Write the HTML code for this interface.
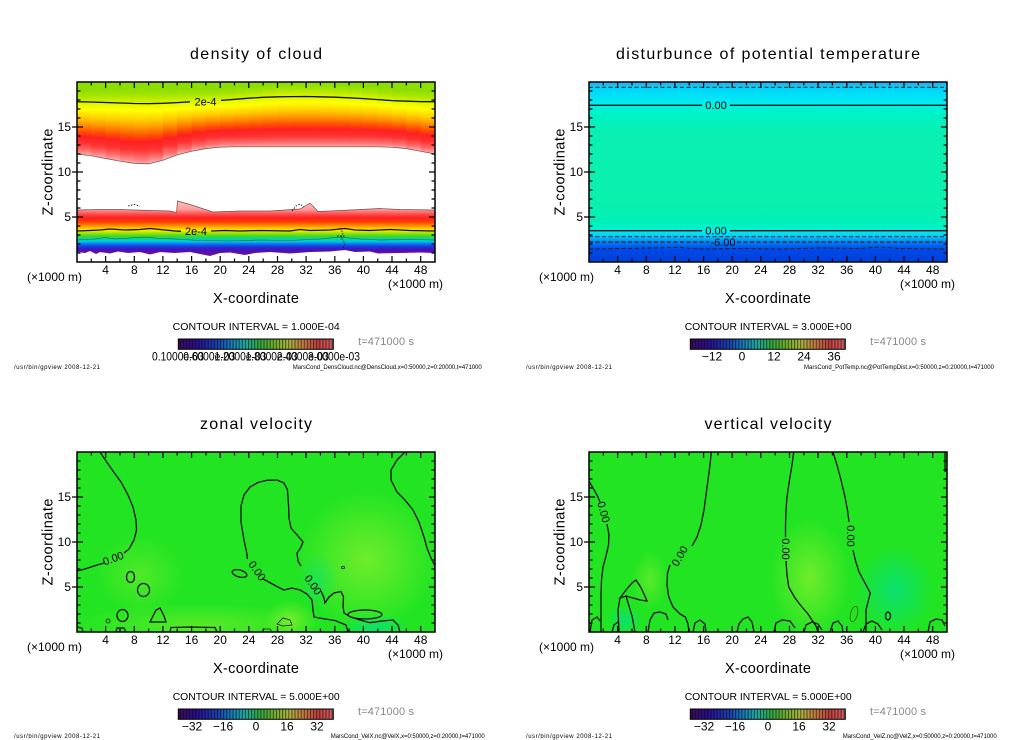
<!DOCTYPE html>
<html><head><meta charset="utf-8"><style>
html,body{margin:0;padding:0;background:#fff;}
svg{display:block;}
text{font-family:"Liberation Sans",Arial,sans-serif;fill:#000;}
.t{font-size:16px;}
.ax{font-size:14.5px;}
.tk{font-size:12px;}
.ci{font-size:10.5px;}
.cb{font-size:12px;}
.ft{font-size:6px;}
.gr{fill:#888;font-size:11px;}
.cl{font-size:11px;}
.c{fill:none;stroke:#111;stroke-width:1.3;}
.cth{fill:none;stroke:#222;stroke-width:0.8;}
</style></head><body>
<svg width="1024" height="740" viewBox="0 0 1024 740" xmlns="http://www.w3.org/2000/svg">
<defs>
<linearGradient id="gUp" x1="0" y1="0" x2="0" y2="1">
<stop offset="0" stop-color="#88dc00"/><stop offset="0.11" stop-color="#a8e600"/><stop offset="0.22" stop-color="#e4f600"/><stop offset="0.30" stop-color="#ffff00"/><stop offset="0.42" stop-color="#ffcc00"/><stop offset="0.51" stop-color="#ff9800"/><stop offset="0.61" stop-color="#ff5400"/><stop offset="0.69" stop-color="#ff2020"/><stop offset="0.79" stop-color="#ff3232"/><stop offset="0.875" stop-color="#ff6464"/><stop offset="0.945" stop-color="#ff9c9c"/><stop offset="1" stop-color="#ffc4c4"/>
</linearGradient>
<linearGradient id="gLow" gradientUnits="userSpaceOnUse" x1="0" y1="200" x2="0" y2="262">
<stop offset="0" stop-color="#ffc0c0"/><stop offset="0.081" stop-color="#ffb0b0"/><stop offset="0.153" stop-color="#ff9a9a"/><stop offset="0.194" stop-color="#ff7070"/><stop offset="0.242" stop-color="#ff4040"/><stop offset="0.29" stop-color="#ff2020"/><stop offset="0.355" stop-color="#ff4000"/><stop offset="0.403" stop-color="#ff8000"/><stop offset="0.452" stop-color="#ffc000"/><stop offset="0.492" stop-color="#f0f000"/><stop offset="0.532" stop-color="#a8e400"/><stop offset="0.581" stop-color="#40d828"/><stop offset="0.629" stop-color="#00d89a"/><stop offset="0.669" stop-color="#00c8e8"/><stop offset="0.71" stop-color="#1070f0"/><stop offset="0.758" stop-color="#2030d8"/><stop offset="0.806" stop-color="#4a10b8"/><stop offset="0.855" stop-color="#6010a8"/><stop offset="1" stop-color="#6010a8"/>
</linearGradient>
<linearGradient id="gPT" gradientUnits="userSpaceOnUse" x1="0" y1="82" x2="0" y2="262">
<stop offset="0" stop-color="#20b4f0"/><stop offset="0.022" stop-color="#18c0f4"/><stop offset="0.033" stop-color="#00d4f8"/><stop offset="0.078" stop-color="#00e2f8"/><stop offset="0.122" stop-color="#00eef0"/><stop offset="0.133" stop-color="#00f2dc"/><stop offset="0.189" stop-color="#00f2c4"/><stop offset="0.294" stop-color="#0af0b0"/><stop offset="0.656" stop-color="#0af0ae"/><stop offset="0.778" stop-color="#00f0b8"/><stop offset="0.817" stop-color="#00f2d4"/><stop offset="0.828" stop-color="#00eaf0"/><stop offset="0.856" stop-color="#00d0f8"/><stop offset="0.872" stop-color="#00a8f8"/><stop offset="0.892" stop-color="#0080f4"/><stop offset="0.911" stop-color="#0060ec"/><stop offset="0.933" stop-color="#0048e4"/><stop offset="1" stop-color="#0040e0"/>
</linearGradient>
<linearGradient id="gCB" x1="0" y1="0" x2="1" y2="0">
<stop offset="0" stop-color="#3c0a5a"/><stop offset="0.12" stop-color="#2a1090"/><stop offset="0.25" stop-color="#1a40b0"/><stop offset="0.35" stop-color="#1a80b8"/><stop offset="0.43" stop-color="#20a8a0"/><stop offset="0.52" stop-color="#30a840"/><stop offset="0.62" stop-color="#70b030"/><stop offset="0.72" stop-color="#b0b040"/><stop offset="0.8" stop-color="#c08040"/><stop offset="0.9" stop-color="#c04040"/><stop offset="1" stop-color="#d06060"/>
</linearGradient>
<pattern id="cbp" width="3.1" height="12" patternUnits="userSpaceOnUse"><rect width="1" height="12" fill="#000" opacity="0.55"/></pattern>
<radialGradient id="ry"><stop offset="0" stop-color="#90f030" stop-opacity="0.7"/><stop offset="1" stop-color="#90f030" stop-opacity="0"/></radialGradient>
<radialGradient id="rc"><stop offset="0" stop-color="#00e090" stop-opacity="0.7"/><stop offset="1" stop-color="#00e090" stop-opacity="0"/></radialGradient>
<path id="tk" fill="none" stroke="#000" stroke-width="1.2" d="M105.6 82v6M134.3 82v6M162.9 82v6M191.6 82v6M220.2 82v6M248.8 82v6M277.5 82v6M306.1 82v6M334.8 82v6M363.4 82v6M392 82v6M420.7 82v6M91.3 82v3.5M120 82v3.5M148.6 82v3.5M177.2 82v3.5M205.9 82v3.5M234.5 82v3.5M263.2 82v3.5M291.8 82v3.5M320.4 82v3.5M349.1 82v3.5M377.7 82v3.5M406.4 82v3.5M105.6 262v-6M134.3 262v-6M162.9 262v-6M191.6 262v-6M220.2 262v-6M248.8 262v-6M277.5 262v-6M306.1 262v-6M334.8 262v-6M363.4 262v-6M392 262v-6M420.7 262v-6M91.3 262v-3.5M120 262v-3.5M148.6 262v-3.5M177.2 262v-3.5M205.9 262v-3.5M234.5 262v-3.5M263.2 262v-3.5M291.8 262v-3.5M320.4 262v-3.5M349.1 262v-3.5M377.7 262v-3.5M406.4 262v-3.5M72 217h11M72 172h11M72 127h11M77 253h3.5M77 244h3.5M77 235h3.5M77 226h3.5M77 208h3.5M77 199h3.5M77 190h3.5M77 181h3.5M77 163h3.5M77 154h3.5M77 145h3.5M77 136h3.5M77 118h3.5M77 109h3.5M77 100h3.5M77 91h3.5M435 217h-6M435 172h-6M435 127h-6M435 253h-3.5M435 244h-3.5M435 235h-3.5M435 226h-3.5M435 208h-3.5M435 199h-3.5M435 190h-3.5M435 181h-3.5M435 163h-3.5M435 154h-3.5M435 145h-3.5M435 136h-3.5M435 118h-3.5M435 109h-3.5M435 100h-3.5M435 91h-3.5"/>
</defs>

<!-- ============ TOP LEFT: density of cloud ============ -->
<rect x="77" y="82" width="358" height="12" fill="#8edf00"/>
<g fill="url(#gUp)">
<rect x="77" y="89.1" width="14.8" height="68.8"/>
<rect x="91.32" y="88.5" width="14.8" height="71.65"/>
<rect x="105.64" y="87.8" width="14.8" height="75.05"/>
<rect x="119.96" y="87.4" width="14.8" height="77.97"/>
<rect x="134.28" y="87.2" width="14.8" height="79.52"/>
<rect x="148.6" y="87.5" width="14.8" height="77.6"/>
<rect x="162.92" y="87.8" width="14.8" height="72.8"/>
<rect x="177.24" y="87.9" width="14.8" height="68.2"/>
<rect x="191.56" y="87.85" width="14.8" height="65.1"/>
<rect x="205.88" y="87.85" width="14.8" height="63.03"/>
<rect x="220.2" y="87.3" width="14.8" height="62.68"/>
<rect x="234.52" y="86.2" width="14.8" height="63.6"/>
<rect x="248.84" y="85.0" width="14.8" height="64.8"/>
<rect x="263.16" y="83.4" width="14.8" height="66.4"/>
<rect x="277.48" y="82.5" width="14.8" height="67.3"/>
<rect x="291.8" y="82.2" width="14.8" height="67.6"/>
<rect x="306.12" y="82.3" width="14.8" height="67.5"/>
<rect x="320.44" y="82.6" width="14.8" height="67.2"/>
<rect x="334.76" y="83.3" width="14.8" height="66.5"/>
<rect x="349.08" y="84.1" width="14.8" height="65.7"/>
<rect x="363.4" y="85.4" width="14.8" height="64.4"/>
<rect x="377.72" y="87.0" width="14.8" height="63.07"/>
<rect x="392.04" y="88.5" width="14.8" height="62.2"/>
<rect x="406.36" y="89.1" width="14.8" height="63.85"/>
<rect x="420.68" y="89.6" width="14.32" height="66.05"/>
</g>
<path fill="#fff" d="M77 154 L91.3 155.8 L105.6 158.5 L120 161.2 L134.3 163.4 L148.6 163.9 L162.9 160.3 L177.2 154.9 L191.6 151.3 L205.9 148.6 L220.2 147.2 L234.5 146.8 L377.7 146.8 L392 147.3 L406.4 148.6 L420.7 151.3 L435 154 L435 206 L77 206 Z"/>
<path fill="none" stroke="#705050" stroke-width="0.7" d="M77 154 L91.3 155.8 L105.6 158.5 L120 161.2 L134.3 163.4 L148.6 163.9 L162.9 160.3 L177.2 154.9 L191.6 151.3 L205.9 148.6 L220.2 147.2 L234.5 146.8 L377.7 146.8 L392 147.3 L406.4 148.6 L420.7 151.3 L435 154"/>
<path fill="url(#gLow)" d="M77 210 L100 209.5 L120 209.5 L150 210.5 L170 211 L176.5 212.5 L177.5 201 L190 204.5 L213 212 L240 211 L270 211 L300 209 L305 206 L310 203.3 L313 206 L318 211.5 L330 211 L360 209.5 L380 208.5 L400 209.5 L435 210 L435 262 L77 262 Z"/>
<path fill="none" stroke="#705050" stroke-width="0.7" d="M77 210 L100 209.5 L120 209.5 L150 210.5 L170 211 L176.5 212.5 L177.5 201 L190 204.5 L213 212 L240 211 L270 211 L300 209 L305 206 L310 203.3 L313 206 L318 211.5 L330 211 L360 209.5 L380 208.5 L400 209.5 L435 210"/>
<path fill="#fff" d="M77 262 L77 252 L85 253 L90 251 L96 254 L100 252 L110 253.5 L118 251.5 L128 253 L140 252 L150 254.5 L160 252 L175 253 L190 252 L200 254 L210 256 L220 253 L230 252.5 L245 255 L255 253 L270 252 L290 253.5 L310 252 L330 251.5 L345 250 L355 252 L370 251.5 L378 253.5 L400 253 L420 252.5 L435 253 L435 262 Z"/>
<path fill="none" stroke="#205050" stroke-width="0.6" d="M77 240 L95 239 L105 237.5 L115 239 L130 238 L145 237 L160 238.5 L175 239 L200 240.5 L230 241 L260 240 L290 240.5 L320 239 L340 237 L360 239 L380 240 L410 239.5 L435 240"/>
<path class="c" d="M77 101.7 L90 102 L105.6 102.5 L120 103 L134.3 103.5 L148.6 103.6 L162.9 103.3 L177 102.6 L190 101.8 M221 100.4 L235 99.3 L248.8 98.2 L263 97.3 L277.5 96.8 L292 96.6 L306.1 96.5 L320 96.8 L334.8 97.2 L349 97.8 L363.4 98.6 L378 99.6 L392 100.6 L406.4 101.2 L420.7 101.6 L435 101.7"/>
<path class="c" d="M77 231 L90 230.5 L100 230 L110 229 L125 230 L140 229.5 L150 228.5 L160 229.5 L175 231 L181 231.3 M211 231 L225 230.5 L240 231 L260 230.5 L290 231 L300 229.5 L310 230.5 L330 230 L345 228.5 L355 230 L370 230.5 L390 229.5 L410 230.5 L435 231"/>
<path fill="none" stroke="#111" stroke-width="0.9" stroke-dasharray="1.5 1.5" d="M128 206 L134 204.5 L140 206 M292 211 L296 206 L300 204 L304 207 M340 228 L343 233 L341 238 L345 243 L343 248 M337 236 L346 236"/>
<text class="cl" x="205.5" y="105.5" text-anchor="middle">2e-4</text>
<text class="cl" x="196" y="235" text-anchor="middle">2e-4</text>
<rect x="77" y="82" width="358" height="180" fill="none" stroke="#000" stroke-width="1.5"/>
<use href="#tk"/>

<!-- ============ TOP RIGHT: potential temperature ============ -->
<rect x="589" y="82" width="358" height="180" fill="url(#gPT)"/>
<path fill="none" stroke="#111" stroke-width="0.8" stroke-dasharray="4 2.5" d="M589 87.3 H947 M589 236.7 H947 M589 249 L620 248.5 L650 248 L680 247.5 L700 249 L740 248.5 L780 249 L820 248 L860 248.5 L880 247 L900 248.5 L947 249"/>
<path fill="none" stroke="#111" stroke-width="1.3" stroke-dasharray="4 2.5" d="M589 242 H709 M737 242 H947"/>
<path class="c" d="M589 105.3 H702 M730 105.3 H947 M589 230.7 H702 M730 230.7 H947"/>
<text class="cl" x="716" y="109" text-anchor="middle">0.00</text>
<text class="cl" x="716" y="234.5" text-anchor="middle">0.00</text>
<text class="cl" x="723" y="246" text-anchor="middle">-6.00</text>
<rect x="589" y="82" width="358" height="180" fill="none" stroke="#000" stroke-width="1.5"/>
<use href="#tk" transform="translate(512,0)"/>

<!-- ============ BOTTOM LEFT: zonal velocity ============ -->
<rect x="77" y="452" width="358" height="180" fill="#22e422"/>
<svg x="77" y="452" width="358" height="180" viewBox="77 452 358 180" overflow="hidden">
<ellipse cx="367" cy="560" rx="70" ry="70" fill="url(#ry)"/>
<ellipse cx="140" cy="575" rx="45" ry="40" fill="url(#ry)" opacity="0.6"/>
<ellipse cx="200" cy="625" rx="130" ry="22" fill="url(#ry)" opacity="0.7"/>
<ellipse cx="290" cy="620" rx="25" ry="20" fill="url(#ry)"/>
<ellipse cx="375" cy="628" rx="35" ry="15" fill="url(#rc)"/>
<ellipse cx="318" cy="580" rx="20" ry="30" fill="url(#rc)" opacity="0.6"/>
</svg>
<path class="c" d="M100 452 L106 461 L113 471 L121 482 L128 495 L133 507 L136 520 L136.5 530 L134 540 L129 549 L124 553 M104 563 L94 566 L85 569 L77 571"/>
<path class="c" d="M247.5 559 L246.7 553 L244 540 L241 522 L241 506 L244 495 L250 487 L258 482.5 L267 480.3 L277 480 L284 483 L287.5 490 L288.5 505 L289 518 L291 528 L298 536 L303 542 L300.5 548 L297 553 L298 561 L301 566"/>
<path class="c" d="M321 591 L324 598 L325 603 L329 597 L334 593 L341 591.5 L343.5 597 L343 606 L344 613 L350 616.7 L360 620 L370 622.7 L382 621 L393 620 L398 625 L400 632"/>
<path class="c" d="M263 579 L267 581 L276 586 L284 590 L292 588 L300 590 L307 594 L312 600 L313 610 L314 617 L325 619 L335 620.5 L346 625 L348 632"/>
<path class="c" d="M405 452 L397 460 L391 470 L391 480 L397 492 L405 500 L413 510 L419 522 L424 537 L427 548 L431 558 L435 566"/>
<g class="c">
<ellipse cx="365" cy="614.5" rx="17" ry="4.5"/>
<ellipse cx="130.5" cy="577" rx="4" ry="5.5"/>
<ellipse cx="143.5" cy="590" rx="6" ry="6.5"/>
<ellipse cx="122.5" cy="615.5" rx="5.5" ry="6"/>
<path d="M150 622 L156 610 L160 608 L164 616 L166 622 Z"/>
<ellipse cx="239.5" cy="573.5" rx="7.5" ry="3.5" transform="rotate(15 239.5 573.5)"/>
<path d="M170 632 L171 627.5 L190 627 L215 627.5 L217 632 M116 632 L117 628 L124 628 L126 632 M77 627 L82 628 L83 632"/>
</g>
<g class="cth">
<ellipse cx="343" cy="567.5" rx="1.5" ry="1.2"/>
<circle cx="108" cy="621" r="2"/>
<path d="M277 624 L283 618 L290 620 L292 625 L283 626 Z M262 632 L264 629 L270 629 L272 632"/>
</g>
<text class="cl" transform="translate(114.5,562) rotate(-20)" text-anchor="middle">0.00</text>
<text class="cl" transform="translate(254,573) rotate(55)" text-anchor="middle">0.00</text>
<text class="cl" transform="translate(310,587) rotate(55)" text-anchor="middle">0.00</text>
<rect x="77" y="452" width="358" height="180" fill="none" stroke="#000" stroke-width="1.5"/>
<use href="#tk" transform="translate(0,370)"/>

<!-- ============ BOTTOM RIGHT: vertical velocity ============ -->
<rect x="589" y="452" width="358" height="180" fill="#22e422"/>
<svg x="589" y="452" width="358" height="180" viewBox="589 452 358 180" overflow="hidden">
<ellipse cx="810" cy="578" rx="40" ry="60" fill="url(#ry)"/>
<ellipse cx="650" cy="580" rx="18" ry="30" fill="url(#ry)" opacity="0.7"/>
<ellipse cx="895" cy="590" rx="40" ry="45" fill="url(#rc)"/>
<ellipse cx="625" cy="620" rx="18" ry="15" fill="url(#rc)"/>
</svg>
<path class="c" d="M589.3 481.7 L593 488 L597 495 L600 502 M607 524 L609 535 L608.5 545 L606 556 L603 567 L601.5 580 L601 595 L601 610 L601 632"/>
<path class="c" d="M711.3 452 L710 465 L708 480 L706 495 L704 510 L701 525 L697 537 L692 546 M670 565 L667.5 573 L667 585 L668.7 596.7 L673 607 L680 614 L685.3 617 L688 624 L689 632"/>
<path class="c" d="M793.7 452 L792 465 L789.5 480 L787 497 L786 510 L785.5 525 L785.5 537 M786 561 L787 575 L788.7 587 L795 598 L802 607 L808 614 L812 620 L816 626 L818 632"/>
<path class="c" d="M833 452 L837 465 L841 480 L845 497 L847.5 510 L849 522 M853 550 L855.3 560 L859 572 L865 583 L870.3 593 L868 602 L866 610 L866 632"/>
<path class="c" d="M945 452 L945 472"/>
<path class="c" d="M620 598 L626 590 L632 583 L636 580 L640 586 L644 594 L647 601 L640 600 L633 598 L626 596 Z M626 596 L629 606 L632 616 L635 632 M620 598 L618 610 L619 632"/>
<path class="c" d="M590 632 L592 620 L597 617 L600 621 M612 632 L614 625 L618 622 M648 632 L650 620 L654 613 L660 612 L666 614 L668 620 M693 632 L695 623 L700 620 L705 624 L706 632 M737 632 L739 624 L743 619 L748 617 L752 622 L754 632 M774 632 L776 623 L782 620 L790 621 L795 628 M804 632 L806 625 L812 622 L818 624 L822 630 M830 632 L833 623 L838 621 L842 626 L843 632 M863 632 L866 624 L872 621 L878 624 L882 630 M928 632 L930 622 L936 619 L942 620 L945 626"/>
<ellipse class="c" cx="888" cy="616" rx="2.5" ry="4"/>
<ellipse cx="854" cy="614" rx="3.5" ry="8" transform="rotate(15 854 614)" fill="none" stroke="#405010" stroke-width="0.7"/>
<text class="cl" transform="translate(600,513) rotate(75)" text-anchor="middle">0.00</text>
<text class="cl" transform="translate(683,558) rotate(-60)" text-anchor="middle">0.00</text>
<text class="cl" transform="translate(782,549) rotate(90)" text-anchor="middle">0.00</text>
<text class="cl" transform="translate(847,536) rotate(90)" text-anchor="middle">0.00</text>
<rect x="589" y="452" width="358" height="180" fill="none" stroke="#000" stroke-width="1.5"/>
<use href="#tk" transform="translate(512,370)"/>

<!-- ============ TEXT: panel TL ============ -->
<g>
<text class="t" x="256" y="59" text-anchor="middle" textLength="132">density of cloud</text>
<text class="ax" transform="translate(52.5,172) rotate(-90)" text-anchor="middle" textLength="87">Z-coordinate</text>
<g class="tk" text-anchor="end"><text x="71" y="221">5</text><text x="71" y="176">10</text><text x="71" y="131">15</text></g>
<g class="tk" text-anchor="middle"><text x="105.6" y="274">4</text><text x="134.3" y="274">8</text><text x="162.9" y="274">12</text><text x="191.6" y="274">16</text><text x="220.2" y="274">20</text><text x="248.8" y="274">24</text><text x="277.5" y="274">28</text><text x="306.1" y="274">32</text><text x="334.8" y="274">36</text><text x="363.4" y="274">40</text><text x="392" y="274">44</text><text x="420.7" y="274">48</text></g>
<text class="tk" x="27" y="281" textLength="55">(×1000 m)</text>
<text class="tk" x="388" y="288" textLength="55">(×1000 m)</text>
<text class="ax" x="256" y="303" text-anchor="middle" textLength="86">X-coordinate</text>
<text class="ci" x="172.7" y="330" textLength="167" lengthAdjust="spacingAndGlyphs">CONTOUR INTERVAL = 1.000E-04</text>
<rect x="178.3" y="339" width="155" height="10.3" fill="url(#gCB)"/><rect x="178.3" y="339" width="155" height="10.3" fill="url(#cbp)"/><rect x="178.3" y="339" width="155" height="10.3" fill="none" stroke="#000" stroke-width="1"/>
<g class="cb"><text x="152" y="360.5" textLength="52" lengthAdjust="spacingAndGlyphs">0.1000e-03</text><text x="183.2" y="360.5" textLength="52" lengthAdjust="spacingAndGlyphs">0.6000e-03</text><text x="214.4" y="360.5" textLength="52" lengthAdjust="spacingAndGlyphs">1.2000e-03</text><text x="245.6" y="360.5" textLength="52" lengthAdjust="spacingAndGlyphs">1.8000e-03</text><text x="276.8" y="360.5" textLength="52" lengthAdjust="spacingAndGlyphs">2.4000e-03</text><text x="308" y="360.5" textLength="52" lengthAdjust="spacingAndGlyphs">3.0000e-03</text></g>
<text class="gr" x="358" y="345" textLength="56">t=471000 s</text>
<text class="ft" x="14" y="369" textLength="86">/usr/bin/gpview   2008-12-21</text>
<text class="ft" x="292.7" y="369" textLength="189">MarsCond_DensCloud.nc@DensCloud,x=0:50000,z=0:20000,t=471000</text>
</g>

<!-- TEXT: panel TR -->
<g transform="translate(512,0)">
<text class="t" x="256" y="59" text-anchor="middle" textLength="304">disturbunce of potential temperature</text>
<text class="ax" transform="translate(52.5,172) rotate(-90)" text-anchor="middle" textLength="87">Z-coordinate</text>
<g class="tk" text-anchor="end"><text x="71" y="221">5</text><text x="71" y="176">10</text><text x="71" y="131">15</text></g>
<g class="tk" text-anchor="middle"><text x="105.6" y="274">4</text><text x="134.3" y="274">8</text><text x="162.9" y="274">12</text><text x="191.6" y="274">16</text><text x="220.2" y="274">20</text><text x="248.8" y="274">24</text><text x="277.5" y="274">28</text><text x="306.1" y="274">32</text><text x="334.8" y="274">36</text><text x="363.4" y="274">40</text><text x="392" y="274">44</text><text x="420.7" y="274">48</text></g>
<text class="tk" x="27" y="281" textLength="55">(×1000 m)</text>
<text class="tk" x="388" y="288" textLength="55">(×1000 m)</text>
<text class="ax" x="256" y="303" text-anchor="middle" textLength="86">X-coordinate</text>
<text class="ci" x="172.7" y="330" textLength="167" lengthAdjust="spacingAndGlyphs">CONTOUR INTERVAL = 3.000E+00</text>
<rect x="178.3" y="339" width="155" height="10.3" fill="url(#gCB)"/><rect x="178.3" y="339" width="155" height="10.3" fill="url(#cbp)"/><rect x="178.3" y="339" width="155" height="10.3" fill="none" stroke="#000" stroke-width="1"/>
<g class="cb" text-anchor="middle"><text x="200" y="360.5">−12</text><text x="230" y="360.5">0</text><text x="262" y="360.5">12</text><text x="292" y="360.5">24</text><text x="322" y="360.5">36</text></g>
<text class="gr" x="358" y="345" textLength="56">t=471000 s</text>
<text class="ft" x="14" y="369" textLength="86">/usr/bin/gpview   2008-12-21</text>
<text class="ft" x="292" y="369" textLength="190">MarsCond_PotTemp.nc@PotTempDist,x=0:50000,z=0:20000,t=471000</text>
</g>

<!-- TEXT: panel BL -->
<g transform="translate(0,370)">
<text class="t" x="256" y="59" text-anchor="middle" textLength="112">zonal velocity</text>
<text class="ax" transform="translate(52.5,172) rotate(-90)" text-anchor="middle" textLength="87">Z-coordinate</text>
<g class="tk" text-anchor="end"><text x="71" y="221">5</text><text x="71" y="176">10</text><text x="71" y="131">15</text></g>
<g class="tk" text-anchor="middle"><text x="105.6" y="274">4</text><text x="134.3" y="274">8</text><text x="162.9" y="274">12</text><text x="191.6" y="274">16</text><text x="220.2" y="274">20</text><text x="248.8" y="274">24</text><text x="277.5" y="274">28</text><text x="306.1" y="274">32</text><text x="334.8" y="274">36</text><text x="363.4" y="274">40</text><text x="392" y="274">44</text><text x="420.7" y="274">48</text></g>
<text class="tk" x="27" y="281" textLength="55">(×1000 m)</text>
<text class="tk" x="388" y="288" textLength="55">(×1000 m)</text>
<text class="ax" x="256" y="303" text-anchor="middle" textLength="86">X-coordinate</text>
<text class="ci" x="172.7" y="330" textLength="167" lengthAdjust="spacingAndGlyphs">CONTOUR INTERVAL = 5.000E+00</text>
<rect x="178.3" y="339" width="155" height="10.3" fill="url(#gCB)"/><rect x="178.3" y="339" width="155" height="10.3" fill="url(#cbp)"/><rect x="178.3" y="339" width="155" height="10.3" fill="none" stroke="#000" stroke-width="1"/>
<g class="cb" text-anchor="middle"><text x="192" y="360.5">−32</text><text x="223" y="360.5">−16</text><text x="256" y="360.5">0</text><text x="287" y="360.5">16</text><text x="317" y="360.5">32</text></g>
<text class="gr" x="358" y="345" textLength="56">t=471000 s</text>
<text class="ft" x="14" y="368" textLength="86">/usr/bin/gpview   2008-12-21</text>
<text class="ft" x="330.7" y="368" textLength="154">MarsCond_VelX.nc@VelX,x=0:50000,z=0:20000,t=471000</text>
</g>

<!-- TEXT: panel BR -->
<g transform="translate(512,370)">
<text class="t" x="256" y="59" text-anchor="middle" textLength="127">vertical velocity</text>
<text class="ax" transform="translate(52.5,172) rotate(-90)" text-anchor="middle" textLength="87">Z-coordinate</text>
<g class="tk" text-anchor="end"><text x="71" y="221">5</text><text x="71" y="176">10</text><text x="71" y="131">15</text></g>
<g class="tk" text-anchor="middle"><text x="105.6" y="274">4</text><text x="134.3" y="274">8</text><text x="162.9" y="274">12</text><text x="191.6" y="274">16</text><text x="220.2" y="274">20</text><text x="248.8" y="274">24</text><text x="277.5" y="274">28</text><text x="306.1" y="274">32</text><text x="334.8" y="274">36</text><text x="363.4" y="274">40</text><text x="392" y="274">44</text><text x="420.7" y="274">48</text></g>
<text class="tk" x="27" y="281" textLength="55">(×1000 m)</text>
<text class="tk" x="388" y="288" textLength="55">(×1000 m)</text>
<text class="ax" x="256" y="303" text-anchor="middle" textLength="86">X-coordinate</text>
<text class="ci" x="172.7" y="330" textLength="167" lengthAdjust="spacingAndGlyphs">CONTOUR INTERVAL = 5.000E+00</text>
<rect x="178.3" y="339" width="155" height="10.3" fill="url(#gCB)"/><rect x="178.3" y="339" width="155" height="10.3" fill="url(#cbp)"/><rect x="178.3" y="339" width="155" height="10.3" fill="none" stroke="#000" stroke-width="1"/>
<g class="cb" text-anchor="middle"><text x="192" y="360.5">−32</text><text x="223" y="360.5">−16</text><text x="256" y="360.5">0</text><text x="287" y="360.5">16</text><text x="317" y="360.5">32</text></g>
<text class="gr" x="358" y="345" textLength="56">t=471000 s</text>
<text class="ft" x="14" y="368" textLength="86">/usr/bin/gpview   2008-12-21</text>
<text class="ft" x="330.7" y="368" textLength="154">MarsCond_VelZ.nc@VelZ,x=0:50000,z=0:20000,t=471000</text>
</g>
</svg>
</body></html>
